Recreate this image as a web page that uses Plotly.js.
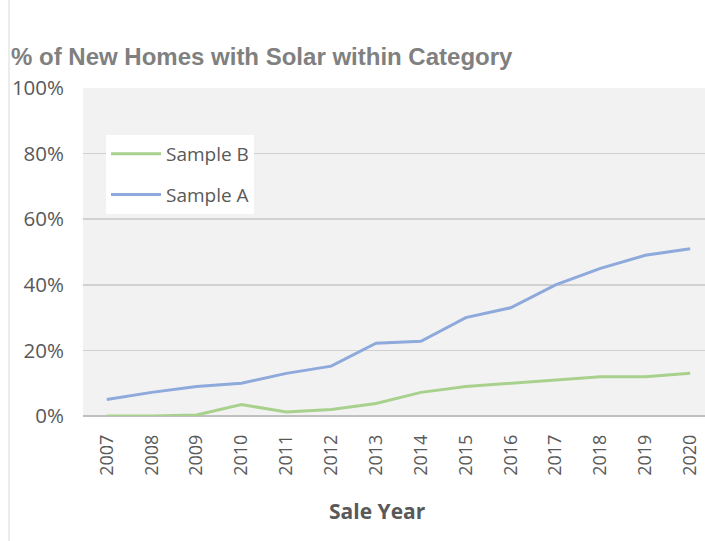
<!DOCTYPE html>
<html>
<head>
<meta charset="utf-8">
<script src="https://cdn.plot.ly/plotly-3.0.1.min.js"></script>
<style>html,body{margin:0;padding:0;background:#fff;}#chart{width:705px;height:541px;}</style>
</head>
<body>
<div id="chart"></div>
<script>
const years = ["2007","2008","2009","2010","2011","2012","2013","2014","2015","2016","2017","2018","2019","2020"];
const sampleB = [0.000, 0.000, 0.003, 0.035, 0.012, 0.020, 0.038, 0.072, 0.090, 0.100, 0.112, 0.120, 0.120, 0.130];
const sampleA = [0.050, 0.072, 0.090, 0.100, 0.130, 0.152, 0.222, 0.228, 0.300, 0.330, 0.400, 0.450, 0.490, 0.510];
const yTicks = [0, 0.2, 0.4, 0.6, 0.8, 1.0];
const yTickLabels = ["0%", "20%", "40%", "60%", "80%", "100%"];

const traces = [
  {x: years, y: sampleB, name: "Sample B", type: "scatter", mode: "lines", legendgroup: "b",
   line: {color: "#A9D18E", width: 3}},
  {x: years, y: sampleA, name: "Sample A", type: "scatter", mode: "lines", legendgroup: "a",
   line: {color: "#8EA9DB", width: 3}}
];

const layout = {
  width: 705, height: 541,
  margin: {l: 83, r: 0, t: 88, b: 125},
  paper_bgcolor: "#ffffff",
  plot_bgcolor: "#f2f2f2",
  font: {family: "Open Sans, sans-serif", color: "#595959"},
  title: {text: "% of New Homes with Solar within Category",
          font: {family: "Liberation Sans, Arial, sans-serif", size: 24, color: "#808080", weight: "bold"},
          xref: "container", yref: "container", x: 11/705, xanchor: "left", y: 1 - 57/541, yanchor: "middle"},
  xaxis: {type: "category", range: [-0.53, 13.33], showgrid: false, zeroline: false,
          showline: false, ticks: "", tickangle: -90, tickfont: {size: 18, color: "#595959"},
          ticklabelstandoff: 14, fixedrange: true},
  yaxis: {range: [0, 1], tickvals: yTicks, ticktext: yTickLabels, showgrid: true,
          gridcolor: "#d0d0d0", gridwidth: 1.6, zeroline: true, zerolinecolor: "#c0c0c0", zerolinewidth: 2.2,
          showline: false, ticks: "", tickfont: {size: 20.5, color: "#595959"}, ticklabelstandoff: 18,
          fixedrange: true},
  legend: {x: (106-83)/622, y: (416-135)/328, xanchor: "left", yanchor: "top",
           bgcolor: "#ffffff", borderwidth: 0, font: {size: 19, color: "#595959"},
           traceorder: "grouped", tracegroupgap: 13, itemwidth: 50},
  showlegend: true,
  annotations: [
    {text: "Sale Year", xref: "paper", yref: "paper", x: (377-83)/622, y: -(511-416)/328,
     xanchor: "center", yanchor: "middle", showarrow: false,
     font: {size: 21, color: "#595959", weight: "bold"}}
  ],
  shapes: [
    {type: "line", xref: "paper", yref: "paper", x0: (9-83)/622, x1: (9-83)/622, y0: -125/328, y1: 1 + 88/328,
     line: {color: "#d9d9d9", width: 1}}
  ]
};

Plotly.newPlot("chart", traces, layout, {displayModeBar: false, staticPlot: true});
</script>
</body>
</html>
